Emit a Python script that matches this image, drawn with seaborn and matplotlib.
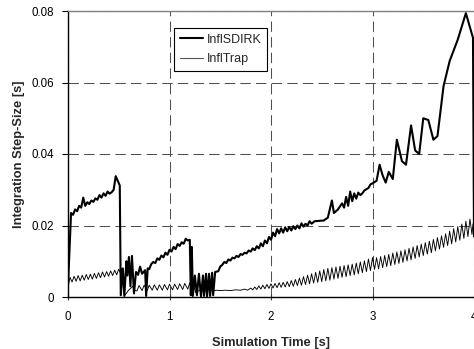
import matplotlib
matplotlib.use("Agg")
import matplotlib.pyplot as plt
import seaborn as sns
import pandas as pd

# ---------------- data ----------------
sdirk_t = [0.000, 0.030, 0.05, 0.07, 0.09, 0.11, 0.13, 0.15, 0.17, 0.19, 0.21, 0.23, 0.25, 0.27,
           0.29, 0.31, 0.33, 0.35, 0.37, 0.39, 0.41, 0.43, 0.45, 0.47, 0.49, 0.51,
           0.52, 0.54, 0.555, 0.575, 0.585, 0.60, 0.615, 0.63, 0.65, 0.67, 0.69, 0.71, 0.73, 0.76,
           0.77, 0.785, 0.80, 0.82, 0.84, 0.86, 0.88, 0.90, 0.92, 0.94, 0.96, 0.98, 1.00, 1.02,
           1.04, 1.06, 1.08, 1.10, 1.12, 1.14, 1.16, 1.18, 1.20, 1.21, 1.22, 1.23, 1.25, 1.27,
           1.29, 1.31, 1.33, 1.34, 1.36, 1.37, 1.39, 1.40, 1.42, 1.43, 1.45, 1.48, 1.50, 1.52,
           1.54, 1.56, 1.58, 1.60, 1.62, 1.64, 1.66, 1.68, 1.70, 1.72, 1.74, 1.76, 1.78, 1.80,
           1.82, 1.84, 1.86, 1.88, 1.90, 1.92, 1.94, 1.96, 1.98, 2.00, 2.02, 2.04, 2.06, 2.08,
           2.10, 2.12, 2.14, 2.16, 2.18, 2.20, 2.22, 2.24, 2.26, 2.28, 2.30, 2.32, 2.34, 2.36,
           2.38, 2.40, 2.43, 2.52, 2.56, 2.60, 2.62, 2.66, 2.70, 2.72, 2.74, 2.76, 2.78, 2.80,
           2.82, 2.84, 2.86, 2.88, 2.90, 2.92, 2.96, 2.98, 3.00, 3.04, 3.07, 3.10, 3.13, 3.16,
           3.20, 3.24, 3.29, 3.33, 3.38, 3.42, 3.46, 3.50, 3.55, 3.60, 3.64, 3.70, 3.76, 3.84,
           3.92, 3.99, 4.00]
sdirk_y = [0.0030, 0.0235, 0.0230, 0.0245, 0.0240, 0.0255, 0.0250, 0.0278, 0.0255, 0.0265,
           0.0260, 0.0270, 0.0266, 0.0276, 0.0272, 0.0285, 0.0278, 0.0290, 0.0283, 0.0295,
           0.0289, 0.0293, 0.0300, 0.0338, 0.0325, 0.0312,
           0.0005, 0.0080, 0.0003, 0.0100, 0.0060, 0.0112, 0.0030, 0.0115, 0.0010, 0.0070,
           0.0062, 0.0085, 0.0065, 0.0075, 0.0003, 0.0080, 0.0078, 0.0092, 0.0098, 0.0095,
           0.0108, 0.0104, 0.0116, 0.0111, 0.0124, 0.0118, 0.0132, 0.0127, 0.0140, 0.0134,
           0.0148, 0.0143, 0.0153, 0.0149, 0.0163, 0.0158, 0.0160, 0.0005, 0.0140, 0.0003,
           0.0060, 0.0005, 0.0065, 0.0002, 0.0060, 0.0003, 0.0065, 0.0002, 0.0065, 0.0003,
           0.0068, 0.0005, 0.0070, 0.0072, 0.0085, 0.0090, 0.0098, 0.0095, 0.0105, 0.0102,
           0.0110, 0.0108, 0.0115, 0.0112, 0.0120, 0.0118, 0.0124, 0.0122, 0.0130, 0.0127,
           0.0136, 0.0131, 0.0142, 0.0136, 0.0150, 0.0142, 0.0158, 0.0150, 0.0168, 0.0160,
           0.0180, 0.0170, 0.0190, 0.0178, 0.0192, 0.0180, 0.0195, 0.0184, 0.0196, 0.0186,
           0.0198, 0.0190, 0.0200, 0.0192, 0.0206, 0.0197, 0.0205, 0.0200, 0.0212, 0.0205,
           0.0212, 0.0214, 0.0222, 0.0270, 0.0235, 0.0245, 0.0262, 0.0250, 0.0280, 0.0255,
           0.0295, 0.0268, 0.0290, 0.0275, 0.0292, 0.0285, 0.0290, 0.0298, 0.0305, 0.0315,
           0.0318, 0.0325, 0.0370, 0.0340, 0.0320, 0.0350, 0.0330, 0.0440, 0.0380, 0.0370,
           0.0480, 0.0410, 0.0400, 0.0500, 0.0495, 0.0440, 0.0450, 0.0590, 0.0660, 0.0720,
           0.0794, 0.0725, 0.0170]

trap_t = [0.00, 0.02, 0.04, 0.06, 0.08, 0.10, 0.12, 0.14, 0.16, 0.18, 0.20, 0.22, 0.24, 0.26,
          0.28, 0.30, 0.32, 0.34, 0.36, 0.38, 0.40, 0.42, 0.44, 0.46, 0.48, 0.50, 0.52, 0.53,
          0.56, 0.60, 0.64, 0.66, 0.68, 0.70, 0.73, 0.75, 0.78, 0.80, 0.83, 0.85, 0.88, 0.90,
          0.93, 0.95, 0.98, 1.00, 1.03, 1.05, 1.08, 1.10, 1.13, 1.15, 1.18, 1.20, 1.22, 1.24,
          1.26, 1.30, 1.34, 1.38, 1.42, 1.46, 1.50, 1.55, 1.60, 1.65, 1.70, 1.74, 1.77, 1.80,
          1.82, 1.84, 1.86, 1.88,
          1.90, 1.92, 1.94, 1.96, 1.98, 2.00, 2.02, 2.04, 2.06, 2.08, 2.10, 2.12, 2.14, 2.16,
          2.18, 2.20, 2.22, 2.24, 2.26, 2.28, 2.30, 2.32, 2.34, 2.36, 2.38, 2.40, 2.42, 2.44,
          2.46, 2.48, 2.50, 2.52, 2.54, 2.56, 2.58, 2.60, 2.62, 2.64, 2.66, 2.68, 2.70, 2.72,
          2.74, 2.76, 2.78, 2.80, 2.82, 2.84, 2.86, 2.88, 2.90, 2.92, 2.94, 2.96, 2.98, 3.00,
          3.02, 3.04, 3.06, 3.08, 3.10, 3.12, 3.14, 3.16, 3.18, 3.20, 3.22, 3.24, 3.26, 3.28,
          3.30, 3.32, 3.34, 3.36, 3.38, 3.40, 3.42, 3.44, 3.46, 3.48, 3.50, 3.52, 3.54, 3.56,
          3.58, 3.60, 3.62, 3.64, 3.66, 3.68, 3.70, 3.72, 3.74, 3.76, 3.78, 3.80, 3.82, 3.84,
          3.86, 3.88, 3.90, 3.92, 3.94, 3.96, 3.98, 3.99, 4.00]
trap_y = [0.0030, 0.0055, 0.0042, 0.0058, 0.0044, 0.0060, 0.0045, 0.0061, 0.0047, 0.0063,
          0.0049, 0.0064, 0.0050, 0.0066, 0.0052, 0.0068, 0.0054, 0.0070, 0.0056, 0.0071,
          0.0058, 0.0073, 0.0060, 0.0075, 0.0062, 0.0078, 0.0064, 0.0080,
          0.0005, 0.0020, 0.0030, 0.0018, 0.0017, 0.0032, 0.0018, 0.0033, 0.0018, 0.0033,
          0.0019, 0.0034, 0.0019, 0.0034, 0.0019, 0.0035, 0.0020, 0.0036, 0.0020, 0.0036,
          0.0021, 0.0037, 0.0021, 0.0038, 0.0022, 0.0040, 0.0012, 0.0030, 0.0012, 0.0020,
          0.0014, 0.0021, 0.0016, 0.0019, 0.0018, 0.0019, 0.0018, 0.0020, 0.0019, 0.0022,
          0.0019, 0.0025, 0.0020, 0.0028, 0.0021, 0.0031,
          0.0022, 0.0033, 0.0023, 0.0035, 0.0024, 0.0037, 0.0025, 0.0038, 0.0026, 0.0040,
          0.0027, 0.0041, 0.0028, 0.0043, 0.0029, 0.0046, 0.0030, 0.0049, 0.0032, 0.0053,
          0.0033, 0.0057, 0.0035, 0.0061, 0.0037, 0.0065, 0.0039, 0.0069, 0.0041, 0.0073,
          0.0043, 0.0077, 0.0045, 0.0080, 0.0047, 0.0082, 0.0050, 0.0084, 0.0052, 0.0086,
          0.0055, 0.0088, 0.0057, 0.0090, 0.0060, 0.0092, 0.0062, 0.0095, 0.0065, 0.0098,
          0.0068, 0.0101, 0.0071, 0.0106, 0.0074, 0.0110, 0.0077, 0.0110, 0.0079, 0.0113,
          0.0082, 0.0116, 0.0085, 0.0119, 0.0088, 0.0123, 0.0091, 0.0126, 0.0094, 0.0129,
          0.0097, 0.0132, 0.0101, 0.0136, 0.0104, 0.0140, 0.0108, 0.0144, 0.0112, 0.0148,
          0.0116, 0.0152, 0.0120, 0.0156, 0.0124, 0.0161, 0.0129, 0.0166, 0.0134, 0.0171,
          0.0139, 0.0177, 0.0144, 0.0184, 0.0149, 0.0191, 0.0154, 0.0197, 0.0159, 0.0204,
          0.0164, 0.0212, 0.0169, 0.0218, 0.0175, 0.0205, 0.0168]

x_ticks = [0, 1, 2, 3, 4]
x_tick_labels = ["0", "1", "2", "3", "4"]
y_ticks = [0, 0.02, 0.04, 0.06, 0.08]
y_tick_labels = ["0", "0.02", "0.04", "0.06", "0.08"]

series_names = ["InflSDIRK", "InflTrap"]

# ---------------- plot ----------------
sns.set_style("white")
plt.rcParams["font.family"] = ["Liberation Sans", "DejaVu Sans"]

fig = plt.figure(figsize=(4.74, 3.49), dpi=100)
ax = fig.add_axes([68 / 474, 52 / 349, 406 / 474, 286 / 349])

df_sdirk = pd.DataFrame({"t": sdirk_t, "h": sdirk_y})
df_trap = pd.DataFrame({"t": trap_t, "h": trap_y})

sns.lineplot(data=df_sdirk, x="t", y="h", ax=ax, color="black", linewidth=1.5,
             estimator=None, sort=False, label=series_names[0])
sns.lineplot(data=df_trap, x="t", y="h", ax=ax, color="black", linewidth=0.65,
             estimator=None, sort=False, label=series_names[1])

ax.set_xlim(0, 4)
ax.set_ylim(0, 0.08)
ax.set_xticks(x_ticks)
ax.set_xticklabels(x_tick_labels)
ax.set_yticks(y_ticks)
ax.set_yticklabels(y_tick_labels)

ax.grid(True, linestyle=(0, (10, 5)), color="#505050", linewidth=0.75)
ax.set_axisbelow(True)

for s in ["left", "bottom"]:
    ax.spines[s].set_color("black")
    ax.spines[s].set_linewidth(1.0)
ax.spines["top"].set_color("#808080")
ax.spines["top"].set_linewidth(1.0)
ax.spines["right"].set_visible(False)

ax.tick_params(axis="x", direction="inout", length=5, width=0.8, color="#404040",
               pad=7.5, labelsize=8.3, labelcolor="black", bottom=True)
ax.tick_params(axis="y", direction="out", length=4, width=0.8, color="black",
               pad=6, labelsize=8.3, labelcolor="black", left=True)

ax.set_xlabel("Simulation Time [s]", fontsize=9.3, fontweight="bold", labelpad=10)
ax.set_ylabel("Integration Step-Size [s]", fontsize=9.3, fontweight="bold", labelpad=5)

leg = ax.legend(loc="upper left", bbox_to_anchor=(174 / 474, 1 - 28 / 349),
                bbox_transform=fig.transFigure, borderaxespad=0, fontsize=9,
                frameon=True, fancybox=False, edgecolor="black", framealpha=1,
                handlelength=1.9, handletextpad=0.25, labelspacing=0.6,
                borderpad=0.45)
leg.get_frame().set_linewidth(0.8)
leg.get_lines()[0].set_linewidth(1.5)
leg.get_lines()[1].set_linewidth(0.8)
leg.get_lines()[1].set_color("#555555")

fig.savefig("out.png", dpi=100)
